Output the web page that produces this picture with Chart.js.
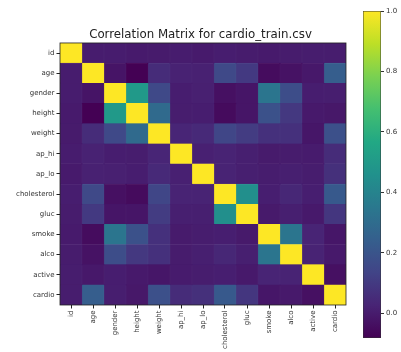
<!DOCTYPE html>
<html><head><meta charset="utf-8">
<script src="https://cdn.jsdelivr.net/npm/chart.js@4"></script>
<style>
html,body{margin:0;padding:0;background:#fff;}
#wrap{position:relative;width:401px;height:352px;overflow:hidden;}
canvas{position:absolute;}
</style></head>
<body><div id="wrap"><canvas id="heat" width="401" height="352" style="left:0;top:0;width:401px;height:352px"></canvas><canvas id="cbar" width="71" height="352" style="left:330px;top:0;width:71px;height:352px"></canvas></div>
<script>
const labels = ["id","age","gender","height","weight","ap_hi","ap_lo","cholesterol","gluc","smoke","alco","active","cardio"];
const rowId          = [1, 0.003, 0.003, -0.003, -0.002, 0.003, -0.003, 0.006, 0.002, -0.003, 0.001, 0.004, 0.004];
const rowAge         = [0.003, 1, -0.023, -0.081, 0.054, 0.021, 0.018, 0.154, 0.099, -0.048, -0.030, -0.010, 0.238];
const rowGender      = [0.003, -0.023, 1, 0.499, 0.156, 0.006, 0.015, -0.036, -0.020, 0.338, 0.171, 0.006, 0.008];
const rowHeight      = [-0.003, -0.081, 0.499, 1, 0.291, 0.005, 0.006, -0.050, -0.019, 0.188, 0.094, -0.007, -0.011];
const rowWeight      = [-0.002, 0.054, 0.156, 0.291, 1, 0.031, 0.044, 0.142, 0.107, 0.068, 0.067, -0.017, 0.182];
const rowApHi        = [0.003, 0.021, 0.006, 0.005, 0.031, 1, 0.016, 0.024, 0.012, -0.001, 0.001, 0.000, 0.054];
const rowApLo        = [-0.003, 0.018, 0.015, 0.006, 0.044, 0.016, 1, 0.024, 0.011, 0.005, 0.011, 0.005, 0.066];
const rowCholesterol = [0.006, 0.154, -0.036, -0.050, 0.142, 0.024, 0.024, 1, 0.452, 0.010, 0.036, 0.010, 0.221];
const rowGluc        = [0.002, 0.099, -0.020, -0.019, 0.107, 0.012, 0.011, 0.452, 1, -0.005, 0.011, -0.007, 0.089];
const rowSmoke       = [-0.003, -0.048, 0.338, 0.188, 0.068, -0.001, 0.005, 0.010, -0.005, 1, 0.340, 0.026, -0.015];
const rowAlco        = [0.001, -0.030, 0.171, 0.094, 0.067, 0.001, 0.011, 0.036, 0.011, 0.340, 1, 0.025, -0.007];
const rowActive      = [0.004, -0.010, 0.006, -0.007, -0.017, 0.000, 0.005, 0.010, -0.007, 0.026, 0.025, 1, -0.036];
const rowCardio      = [0.004, 0.238, 0.008, -0.011, 0.182, 0.054, 0.066, 0.221, 0.089, -0.015, -0.007, -0.036, 1];
const colorbarTicks = [0.0, 0.2, 0.4, 0.6, 0.8, 1.0];

const matrix = [rowId,rowAge,rowGender,rowHeight,rowWeight,rowApHi,rowApLo,rowCholesterol,rowGluc,rowSmoke,rowAlco,rowActive,rowCardio];
const vmin = Math.min(...matrix.flat());
const vmax = 1;

const VIR = ["#440154","#482475","#414487","#355f8d","#2a788e","#21918c","#22a884","#44bf70","#7ad151","#bddf26","#fde725"];
function hex(h){return [parseInt(h.substr(1,2),16),parseInt(h.substr(3,2),16),parseInt(h.substr(5,2),16)];}
function viridis(v){
  let t=(v-vmin)/(vmax-vmin); t=Math.max(0,Math.min(1,t));
  const p=t*(VIR.length-1); const i=Math.min(Math.floor(p),VIR.length-2); const f=p-i;
  const a=hex(VIR[i]), b=hex(VIR[i+1]);
  return `rgb(${Math.round(a[0]+(b[0]-a[0])*f)},${Math.round(a[1]+(b[1]-a[1])*f)},${Math.round(a[2]+(b[2]-a[2])*f)})`;
}

const FONT = "'DejaVu Sans', sans-serif";
const TXT = "#333";

const datasets = labels.map((c,j)=>({
  label:c,
  data: labels.map(()=>1),
  backgroundColor: matrix.map(row=>viridis(row[j])),
  borderColor: matrix.map(row=>viridis(row[j])),
  borderWidth: 0.4,
  borderSkipped: false,
  barPercentage:1, categoryPercentage:1
}));

const framePlugin = {
  id:'frame',
  afterDatasetsDraw(chart){
    const {ctx, chartArea:a} = chart;
    ctx.save(); ctx.strokeStyle='#222'; ctx.lineWidth=0.8;
    ctx.strokeRect(a.left, a.top, a.right-a.left, a.bottom-a.top);
    ctx.restore();
  }
};

new Chart(document.getElementById('heat'), {
  type:'bar',
  data:{labels, datasets},
  options:{
    indexAxis:'y', responsive:false, animation:false,
    layout:{padding:0},
    plugins:{
      legend:{display:false}, tooltip:{enabled:false},
      title:{display:true, text:'Correlation Matrix for cardio_train.csv', color:'#222',
        font:{family:FONT,size:11.8,weight:'normal'}, padding:{top:28,bottom:0.8}}
    },
    scales:{
      x:{type:'linear', stacked:true, min:0, max:13,
        afterBuildTicks(s){ s.ticks = labels.map((_,i)=>({value:i+0.5})); },
        afterFit(s){ s.height = 47; },
        ticks:{autoSkip:false, minRotation:90, maxRotation:90, color:TXT, padding:2,
          font:{family:FONT,size:7}, callback:(v)=>labels[Math.floor(v)]},
        grid:{drawOnChartArea:false, tickLength:3.5, color:'#222'},
        border:{display:false}
      },
      y:{stacked:true,
        afterFit(s){ s.width = 60; },
        ticks:{autoSkip:false, color:TXT, padding:2, font:{family:FONT,size:7}},
        grid:{offset:false, drawOnChartArea:false, tickLength:3.5, color:'#222'},
        border:{display:false}
      },
      ySpace:{position:'right', display:true,
        afterFit(s){ s.width = 55; },
        ticks:{display:false}, grid:{display:false}, border:{display:false}
      }
    }
  },
  plugins:[framePlugin]
});

new Chart(document.getElementById('cbar'), {
  type:'bar',
  data:{labels:[''], datasets:[{
    data:[[vmin, vmax]],
    backgroundColor(ctx){
      const ch = ctx.chart; if(!ch.chartArea) return VIR[0];
      const ys = ch.scales.y;
      const g = ch.ctx.createLinearGradient(0, ys.getPixelForValue(vmin), 0, ys.getPixelForValue(vmax));
      VIR.forEach((c,i)=>g.addColorStop(i/(VIR.length-1), c));
      return g;
    },
    borderColor:'#333', borderWidth:0.8, borderSkipped:false,
    barPercentage:1, categoryPercentage:1
  }]},
  options:{
    responsive:false, animation:false,
    layout:{padding:{left:33,right:0,top:11,bottom:14}},
    plugins:{legend:{display:false}, tooltip:{enabled:false}},
    scales:{
      x:{display:false},
      y:{position:'right', min:vmin, max:vmax,
        afterBuildTicks(s){ s.ticks = colorbarTicks.map(v=>({value:v})); },
        afterFit(s){ s.width = 20; },
        ticks:{color:TXT, padding:2, font:{family:FONT,size:7}, callback:(v)=>Number(v).toFixed(1)},
        grid:{drawOnChartArea:false, tickLength:3, color:'#333'},
        border:{display:false}
      }
    }
  }
});
</script></body></html>
